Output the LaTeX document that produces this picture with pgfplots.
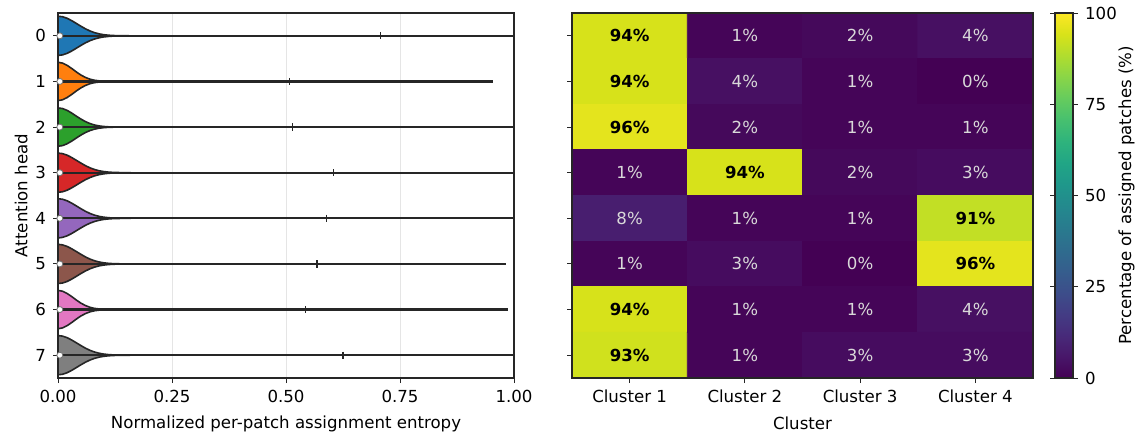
\documentclass[border=0pt]{standalone}
\usepackage{pgfplots}
\pgfplotsset{compat=1.18}
\usepackage{pgfplotstable}
\usepackage{fontspec}
\setmainfont{DejaVu Sans}
\definecolor{c0}{HTML}{1F77B4}
\definecolor{c1}{HTML}{FF7F0E}
\definecolor{c2}{HTML}{2CA02C}
\definecolor{c3}{HTML}{D62728}
\definecolor{c4}{HTML}{9467BD}
\definecolor{c5}{HTML}{8C564B}
\definecolor{c6}{HTML}{E377C2}
\definecolor{c7}{HTML}{7F7F7F}
\definecolor{axc}{HTML}{262626}
\pgfplotsset{every axis/.append style={
  font=\fontsize{8.3}{10}\selectfont,
  /pgf/number format/assume math mode=true,
  tick align=outside, major tick length=2.5pt,
  tick style={axc, line width=0.5pt},
  axis line style={axc, line width=0.6pt},
  label style={font=\fontsize{8.3}{10}\selectfont},
}}
% violin half-width profiles (forward then back)
\pgfplotstableread{
x wide med nar
0 0.430 0.420 0.420
0.01 0.418 0.406 0.402
0.02 0.384 0.366 0.353
0.03 0.333 0.308 0.285
0.04 0.273 0.241 0.210
0.05 0.212 0.177 0.142
0.06 0.155 0.121 0.089
0.07 0.107 0.077 0.050
0.08 0.070 0.046 0.026
0.09 0.043 0.025 0.013
0.10 0.025 0.013 0.006
0.11 0.014 0.006 0.002
0.12 0.007 0.003 0.001
0.13 0.004 0.001 0.000
0.14 0.002 0.000 0.000
0.16 0.000 0.000 0.000
0.14 -0.002 0.000 0.000
0.13 -0.004 -0.001 0.000
0.12 -0.007 -0.003 -0.001
0.11 -0.014 -0.006 -0.002
0.10 -0.025 -0.013 -0.006
0.09 -0.043 -0.025 -0.013
0.08 -0.070 -0.046 -0.026
0.07 -0.107 -0.077 -0.050
0.06 -0.155 -0.121 -0.089
0.05 -0.212 -0.177 -0.142
0.04 -0.273 -0.241 -0.210
0.03 -0.333 -0.308 -0.285
0.02 -0.384 -0.366 -0.353
0.01 -0.418 -0.406 -0.402
0 -0.430 -0.420 -0.420
}\prof
\pgfplotstableread{
x y v
0 0 94
1 0 1
2 0 2
3 0 4
0 1 94
1 1 4
2 1 1
3 1 0
0 2 96
1 2 2
2 2 1
3 2 1
0 3 1
1 3 94
2 3 2
3 3 3
0 4 8
1 4 1
2 4 1
3 4 91
0 5 1
1 5 3
2 5 0
3 5 96
0 6 94
1 6 1
2 6 1
3 6 4
0 7 93
1 7 1
2 7 3
3 7 3
}\heat
\pgfplotstableread{
x y v
0 0 94
0 1 94
0 2 96
1 3 94
3 4 91
3 5 96
0 6 94
0 7 93
}\heatbig
\pgfplotstableread{
x y v
1 0 1
2 0 2
3 0 4
1 1 4
2 1 1
3 1 0
1 2 2
2 2 1
3 2 1
0 3 1
2 3 2
3 3 3
0 4 8
1 4 1
2 4 1
0 5 1
1 5 3
2 5 0
1 6 1
2 6 1
3 6 4
1 7 1
2 7 3
3 7 3
}\heatsmall
\begin{document}
\begin{tikzpicture}
\useasboundingbox (0,0) rectangle (570.5pt,216.5pt);
\begin{axis}[at={(29pt,27.5pt)}, anchor=south west, scale only axis,
  width=228pt, height=182.5pt,
  xmin=0, xmax=1, ymin=-0.5, ymax=7.5, y dir=reverse,
  ytick={0,1,2,3,4,5,6,7},
  xtick={0,0.25,0.5,0.75,1}, xticklabels={0.00,0.25,0.50,0.75,1.00},
  xmajorgrids, grid style={black!10, line width=0.4pt},
  tick pos=left, clip=false,
  xlabel={Normalized per-patch assignment entropy},
  ylabel={Attention head},
  ylabel style={yshift=-3pt},
  violin/.style={draw=axc, line width=0.8pt}]
\addplot[violin, fill=c0] table[x=x, y expr=\thisrow{wide}+0] {\prof} -- cycle;
\addplot[violin, fill=c1] table[x=x, y expr=\thisrow{nar}+1] {\prof} -- cycle;
\addplot[violin, fill=c2] table[x=x, y expr=\thisrow{med}+2] {\prof} -- cycle;
\addplot[violin, fill=c3] table[x=x, y expr=\thisrow{wide}+3] {\prof} -- cycle;
\addplot[violin, fill=c4] table[x=x, y expr=\thisrow{wide}+4] {\prof} -- cycle;
\addplot[violin, fill=c5] table[x=x, y expr=\thisrow{wide}+5] {\prof} -- cycle;
\addplot[violin, fill=c6] table[x=x, y expr=\thisrow{nar}+6] {\prof} -- cycle;
\addplot[violin, fill=c7] table[x=x, y expr=\thisrow{wide}+7] {\prof} -- cycle;
\addplot[axc, line width=1.1pt] coordinates {(0,0) (1,0)};
\addplot[axc, line width=1.1pt] coordinates {(0,1) (0.954,1)};
\addplot[axc, line width=1.1pt] coordinates {(0,2) (1,2)};
\addplot[axc, line width=1.1pt] coordinates {(0,3) (1,3)};
\addplot[axc, line width=1.1pt] coordinates {(0,4) (0.998,4)};
\addplot[axc, line width=1.1pt] coordinates {(0,5) (0.983,5)};
\addplot[axc, line width=1.1pt] coordinates {(0,6) (0.987,6)};
\addplot[axc, line width=1.1pt] coordinates {(0,7) (0.998,7)};
\addplot[only marks, mark=|, mark size=1.8pt, mark options={axc, line width=0.6pt}]
  coordinates {(0.708,0) (0.507,1) (0.515,2) (0.605,3) (0.588,4) (0.568,5) (0.542,6) (0.625,7)};
\addplot[only marks, mark=*, mark size=1.5pt, mark options={fill=white, draw=black!55, line width=0.4pt}]
  coordinates {(0.004,0) (0.004,1) (0.004,2) (0.004,3) (0.004,4) (0.004,5) (0.004,6) (0.004,7)};
\end{axis}
\begin{axis}[at={(286pt,27.5pt)}, anchor=south west, scale only axis,
  width=230.5pt, height=182.5pt,
  xmin=-0.5, xmax=3.5, ymin=-0.5, ymax=7.5, y dir=reverse,
  xtick={0,1,2,3}, xticklabels={Cluster 1,Cluster 2,Cluster 3,Cluster 4},
  ytick={0,1,2,3,4,5,6,7}, yticklabels={},
  tick pos=left, xlabel={Cluster}, axis on top,
  colormap/viridis, point meta min=0, point meta max=100,
  colorbar,
  colorbar style={scale only axis, width=9pt, height=182.5pt,
    at={(parent axis.north east)}, anchor=north west, xshift=2.5pt,
    ytick={0,25,50,75,100},
    ylabel={Percentage of assigned patches (\%)},
    ylabel style={yshift=6pt}}]
\addplot[matrix plot*, mesh/cols=4, point meta=explicit] table[x=x, y=y, meta=v] {\heat};
\addplot[draw=none, point meta=explicit,
  nodes near coords={\pgfmathprintnumber{\pgfplotspointmeta}\%},
  nodes near coords style={anchor=center, text=black, font=\fontsize{8.3}{10}\selectfont\bfseries}]
  table[x=x, y=y, meta=v] {\heatbig};
\addplot[draw=none, point meta=explicit,
  nodes near coords={\pgfmathprintnumber{\pgfplotspointmeta}\%},
  nodes near coords style={anchor=center, text=white!85!black}]
  table[x=x, y=y, meta=v] {\heatsmall};
\end{axis}
\end{tikzpicture}
\end{document}
